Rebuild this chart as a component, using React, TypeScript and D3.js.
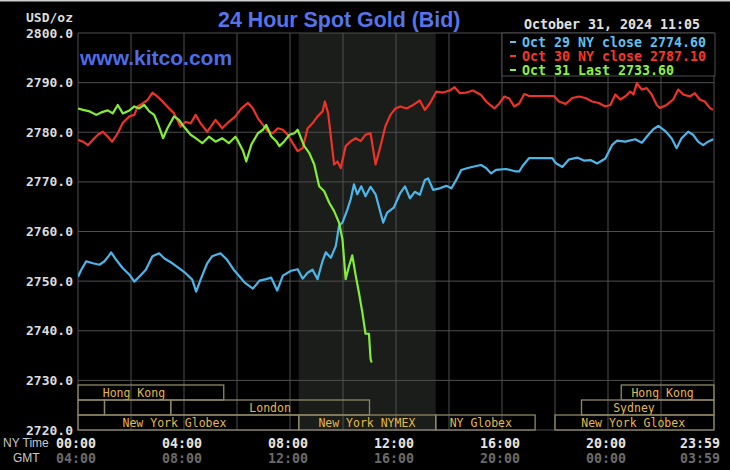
import React from "react";
import * as d3 from "d3";

// ---------- data ----------
const yTicks = [2720, 2730, 2740, 2750, 2760, 2770, 2780, 2790, 2800];
const gridHours = [0, 2, 4, 6, 8, 10, 12, 14, 16, 18, 20, 22, 24];
const timeLabelHours = [0, 4, 8, 12, 16, 20, 24];
const nyTimeLabels = ["00:00", "04:00", "08:00", "12:00", "16:00", "20:00", "23:59"];
const gmtTimeLabels = ["04:00", "08:00", "12:00", "16:00", "20:00", "00:00", "03:59"];

const title = "24 Hour Spot Gold (Bid)";
const siteText = "www.kitco.com";
const dateText = "October 31, 2024 11:05";
const unitText = "USD/oz";
const legendLabels = ["Oct 29 NY close 2774.60", "Oct 30 NY close 2787.10", "Oct 31 Last 2733.60"];
const nymexHours = [8.33, 13.5];

// [hour (NY time), price]
const oct29: [number, number][] = [
  [0, 2750.9], [0.125, 2752.3], [0.31, 2754.0], [0.56, 2753.6], [0.81, 2753.3], [1.0, 2754.0],
  [1.19, 2755.3], [1.25, 2755.8], [1.44, 2754.3], [1.69, 2752.6], [1.94, 2751.3], [2.125, 2749.9],
  [2.31, 2750.9], [2.56, 2752.3], [2.81, 2755.0], [3.06, 2755.6], [3.25, 2754.6], [3.56, 2753.6],
  [3.81, 2752.6], [4.06, 2751.6], [4.31, 2750.3], [4.46, 2747.9], [4.625, 2750.3], [4.875, 2753.6],
  [5.06, 2755.0], [5.375, 2755.6], [5.625, 2754.3], [5.875, 2752.3], [6.04, 2751.3], [6.29, 2749.7],
  [6.6, 2748.5], [6.85, 2750.1], [7.1, 2750.4], [7.29, 2750.7], [7.515, 2748.1], [7.73, 2751.1],
  [8.04, 2752.1], [8.29, 2752.4], [8.48, 2750.5], [8.665, 2751.7], [8.85, 2752.3], [9.04, 2750.4],
  [9.23, 2754.1], [9.35, 2755.8], [9.54, 2754.7], [9.73, 2757.1], [9.85, 2761.1], [9.98, 2761.8],
  [10.165, 2764.4], [10.29, 2766.5], [10.415, 2769.5], [10.54, 2767.5], [10.69, 2769.1], [10.85, 2767.1],
  [11.04, 2769.0], [11.23, 2767.5], [11.35, 2765.1], [11.515, 2761.8], [11.665, 2763.8], [11.915, 2764.8],
  [12.165, 2767.8], [12.34, 2769.1], [12.525, 2766.7], [12.71, 2768.0], [12.9, 2767.4], [13.09, 2770.4],
  [13.21, 2770.7], [13.4, 2768.4], [13.65, 2768.7], [13.9, 2769.2], [14.09, 2768.7], [14.275, 2770.4],
  [14.46, 2772.4], [14.71, 2772.8], [15.025, 2773.2], [15.21, 2773.4], [15.4, 2772.8], [15.59, 2771.7],
  [15.775, 2772.4], [16.15, 2772.6], [16.525, 2772.1], [16.65, 2772.1], [16.775, 2773.2], [17.025, 2774.8],
  [17.9, 2774.8], [18.025, 2773.8], [18.275, 2773.0], [18.525, 2774.5], [18.84, 2774.9], [19.09, 2774.3],
  [19.34, 2774.4], [19.59, 2773.7], [19.9, 2774.7], [20.15, 2777.4], [20.34, 2778.3], [20.65, 2778.1],
  [21.025, 2778.6], [21.275, 2777.9], [21.525, 2779.5], [21.71, 2780.6], [21.9, 2781.3], [22.15, 2780.3],
  [22.4, 2778.8], [22.59, 2776.8], [22.775, 2778.8], [23.025, 2780.1], [23.21, 2779.5], [23.4, 2778.1],
  [23.59, 2777.4], [23.775, 2778.1], [23.97, 2778.6],
];

const oct30: [number, number][] = [
  [0, 2778.5], [0.19, 2778.1], [0.375, 2777.4], [0.56, 2778.5], [0.75, 2779.5], [0.94, 2780.1],
  [1.125, 2779.1], [1.29, 2778.1], [1.5, 2779.8], [1.69, 2781.9], [1.94, 2783.2], [2.125, 2783.5],
  [2.25, 2785.2], [2.44, 2785.8], [2.625, 2786.5], [2.81, 2788.0], [3.0, 2787.2], [3.19, 2786.2],
  [3.44, 2784.8], [3.625, 2783.8], [3.875, 2781.1], [4.06, 2782.1], [4.25, 2781.8], [4.44, 2783.5],
  [4.625, 2781.8], [4.875, 2780.1], [5.06, 2781.5], [5.19, 2782.5], [5.44, 2780.8], [5.69, 2782.1],
  [5.94, 2783.2], [6.165, 2784.8], [6.415, 2785.9], [6.6, 2784.8], [6.79, 2782.8], [6.98, 2781.5],
  [7.165, 2780.2], [7.35, 2779.8], [7.54, 2780.8], [7.73, 2780.5], [7.915, 2779.5], [8.1, 2777.8],
  [8.29, 2776.2], [8.48, 2776.8], [8.665, 2780.8], [8.85, 2781.8], [9.04, 2783.2], [9.23, 2784.2],
  [9.315, 2786.2], [9.44, 2783.8], [9.54, 2779.2], [9.665, 2773.5], [9.79, 2774.1], [9.915, 2772.8],
  [10.1, 2777.2], [10.29, 2778.2], [10.48, 2778.8], [10.665, 2778.2], [10.85, 2779.5], [11.04, 2779.8],
  [11.23, 2773.5], [11.415, 2777.2], [11.6, 2781.2], [11.79, 2783.5], [11.98, 2784.8], [12.165, 2785.2],
  [12.4, 2784.8], [12.65, 2785.5], [12.9, 2786.4], [13.09, 2784.5], [13.275, 2785.8], [13.525, 2788.2],
  [13.775, 2788.0], [14.025, 2788.4], [14.21, 2789.1], [14.4, 2787.9], [14.65, 2788.0], [14.9, 2788.4],
  [15.21, 2787.5], [15.4, 2786.2], [15.71, 2784.8], [15.9, 2785.8], [16.09, 2787.2], [16.275, 2786.8],
  [16.46, 2785.2], [16.65, 2785.8], [16.84, 2787.7], [17.025, 2787.3], [17.96, 2787.3], [18.15, 2786.2],
  [18.4, 2785.7], [18.65, 2786.9], [18.9, 2787.2], [19.15, 2786.9], [19.4, 2786.2], [19.65, 2785.9],
  [19.9, 2785.2], [20.09, 2785.5], [20.275, 2787.6], [20.46, 2786.6], [20.65, 2787.2], [20.84, 2788.2],
  [20.96, 2787.6], [21.09, 2789.9], [21.275, 2788.6], [21.46, 2788.9], [21.65, 2787.6], [21.84, 2785.5],
  [21.96, 2784.9], [22.21, 2785.5], [22.46, 2786.6], [22.65, 2788.6], [22.84, 2787.6], [23.09, 2787.2],
  [23.275, 2787.9], [23.46, 2786.6], [23.65, 2786.2], [23.84, 2784.9], [23.96, 2784.5],
];

const oct31: [number, number][] = [
  [0, 2784.8], [0.19, 2784.5], [0.44, 2784.2], [0.69, 2783.5], [0.875, 2784.0], [1.125, 2784.4],
  [1.31, 2783.8], [1.5, 2785.5], [1.69, 2783.8], [1.94, 2784.4], [2.125, 2785.2], [2.31, 2784.8],
  [2.5, 2785.5], [2.69, 2784.2], [2.875, 2783.5], [3.06, 2781.1], [3.21, 2778.8], [3.375, 2780.8],
  [3.625, 2783.2], [3.81, 2782.5], [4.0, 2781.1], [4.25, 2779.5], [4.44, 2778.8], [4.69, 2777.8],
  [4.94, 2779.1], [5.19, 2778.1], [5.44, 2778.8], [5.69, 2777.8], [5.94, 2779.1], [6.04, 2778.2],
  [6.23, 2776.2], [6.35, 2774.1], [6.54, 2777.5], [6.79, 2779.8], [6.98, 2780.5], [7.1, 2781.5],
  [7.29, 2779.2], [7.48, 2778.2], [7.6, 2777.2], [7.79, 2778.2], [7.98, 2779.5], [8.165, 2779.8],
  [8.29, 2780.5], [8.415, 2778.8], [8.54, 2777.2], [8.73, 2775.8], [8.915, 2773.5], [9.1, 2769.1],
  [9.29, 2768.1], [9.48, 2765.8], [9.665, 2764.1], [9.85, 2761.8], [9.98, 2758.4], [10.1, 2750.4],
  [10.23, 2753.1], [10.35, 2755.2], [10.48, 2751.1], [10.6, 2747.7], [10.73, 2743.7], [10.85, 2739.4],
  [10.98, 2739.4], [11.04, 2734.3], [11.08, 2733.6],
];

// sessions: row, start hour, end hour, label, hour where label is centred
const sessionRows = [0, 0, 1, 1, 1, 1, 2, 2, 2, 2];
const sessionStarts = [0, 20.5, 0, 1, 3.5, 19, 0, 8.33, 13.5, 18];
const sessionEnds = [5.5, 24, 1, 3.5, 11, 24, 8.33, 13.5, 17.25, 24];
const sessionLabels = ["Hong Kong", "Hong Kong", "", "", "London", "Sydney", "New York Globex", "New York NYMEX", "NY Globex", "New York Globex"];
const sessionLabelHours = [2.11, 22.06, 0, 0, 7.25, 20.98, 3.64, 10.9, 15.2, 20.95];

// ---------- chart ----------
const W = 730;
const H = 470;
const L = 78, R = 714, T = 33, B = 430;
const MONO = "'DejaVu Sans Mono', 'Liberation Mono', monospace";
const SANS = "'Liberation Sans', Arial, sans-serif";
const colors = ["#4cb6ea", "#ec3328", "#84ee34"];
const legendColors = ["#5cc2f2", "#f2382e", "#8cf044"];

export default function App() {
  const x = d3.scaleLinear().domain([0, 24]).range([L, R]);
  const y = d3.scaleLinear().domain([2720, 2800]).range([B, T]);
  const line = d3.line<[number, number]>().x((d) => x(d[0])).y((d) => y(d[1]));
  const series = [oct29, oct30, oct31];
  const rowTops = [385, 400, 415];
  const rowH = 15;

  return (
    <svg width={W} height={H} style={{ position: "absolute", left: 0, top: 0, display: "block" }}>
      <defs>
        <clipPath id="plotclip">
          <rect x={L} y={T} width={R - L} height={B - T} />
        </clipPath>
      </defs>
      <rect x={0} y={0} width={W} height={H} fill="#000" />
      <rect x={0} y={0} width={W} height={1.5} fill="#cfcfcf" />

      {/* NYMEX shading */}
      <rect x={x(nymexHours[0])} y={T} width={x(nymexHours[1]) - x(nymexHours[0])} height={B - T} fill="#1a1d1a" />

      {/* grid */}
      {yTicks.map((t) => (
        <line key={"h" + t} x1={L} x2={R} y1={y(t)} y2={y(t)} stroke="#4e4e4e" strokeWidth={1} />
      ))}
      {gridHours.map((h) => (
        <line key={"v" + h} x1={x(h)} x2={x(h)} y1={T} y2={B} stroke="#4e4e4e" strokeWidth={1} />
      ))}

      {/* sessions */}
      {sessionRows.map((r, i) => (
        <g key={"s" + i}>
          <rect x={x(sessionStarts[i])} y={rowTops[r]} width={x(sessionEnds[i]) - x(sessionStarts[i])} height={rowH}
            fill="none" stroke="#8e8764" strokeWidth={1.3} />
          {sessionLabels[i] && (
            <text x={x(sessionLabelHours[i])} y={rowTops[r] + rowH / 2} textAnchor="middle" dominantBaseline="central"
              fontFamily={MONO} fontSize={11.5} fill="#e3b94e">{sessionLabels[i]}</text>
          )}
        </g>
      ))}

      {/* lines */}
      <g clipPath="url(#plotclip)">
        {series.map((s, i) => (
          <path key={"l" + i} d={line(s) || ""} fill="none" stroke={colors[i]} strokeWidth={2.2} strokeLinejoin="round" />
        ))}
      </g>

      {/* legend */}
      <rect x={x(16)} y={T} width={715 - x(16)} height={43} fill="#000" stroke="#4e4e4e" strokeWidth={1} />
      {legendLabels.map((lbl, i) => (
        <g key={"lg" + i}>
          <line x1={510} x2={516} y1={42 + i * 14} y2={42 + i * 14} stroke={legendColors[i]} strokeWidth={2} />
          <text x={522} y={42 + i * 14} dominantBaseline="central" fontFamily={MONO} fontWeight="bold" fontSize={13.3}
            fill={legendColors[i]}>{lbl}</text>
        </g>
      ))}
      <text x={612} y={24} textAnchor="middle" dominantBaseline="central" fontFamily={MONO} fontWeight="bold"
        fontSize={13.3} fill="#e0e0e0">{dateText}</text>

      {/* title */}
      <text x={218} y={27} fontFamily={SANS} fontWeight="bold" fontSize={21.4} fill="#5673e8">{title}</text>
      <text x={80} y={65} fontFamily={SANS} fontWeight="bold" fontSize={21} fill="#4f6ce6">{siteText}</text>

      {/* y axis */}
      <text x={73} y={17} textAnchor="end" dominantBaseline="central" fontFamily={MONO} fontWeight="bold" fontSize={13}
        fill="#dcdcdc">{unitText}</text>
      {yTicks.map((t) => (
        <text key={"yl" + t} x={73} y={y(t)} textAnchor="end" dominantBaseline="central" fontFamily={MONO}
          fontWeight="bold" fontSize={13} fill="#dcdcdc">{t.toFixed(1)}</text>
      ))}

      {/* x axis */}
      <text x={3} y={443} dominantBaseline="central" fontFamily={SANS} fontSize={12} fill="#c8c8c8">NY Time</text>
      <text x={13} y={458} dominantBaseline="central" fontFamily={SANS} fontSize={12} fill="#c8c8c8">GMT</text>
      {timeLabelHours.map((h, i) => {
        const last = i === timeLabelHours.length - 1;
        const tx = last ? 720 : x(h) - 2;
        return (
          <g key={"xl" + h}>
            <text x={tx} y={443} textAnchor={last ? "end" : "middle"} dominantBaseline="central" fontFamily={MONO}
              fontWeight="bold" fontSize={13.3} fill="#e4e4e4">{nyTimeLabels[i]}</text>
            <text x={tx} y={458} textAnchor={last ? "end" : "middle"} dominantBaseline="central" fontFamily={MONO}
              fontWeight="bold" fontSize={13.3} fill="#6a6a6a">{gmtTimeLabels[i]}</text>
          </g>
        );
      })}
    </svg>
  );
}
